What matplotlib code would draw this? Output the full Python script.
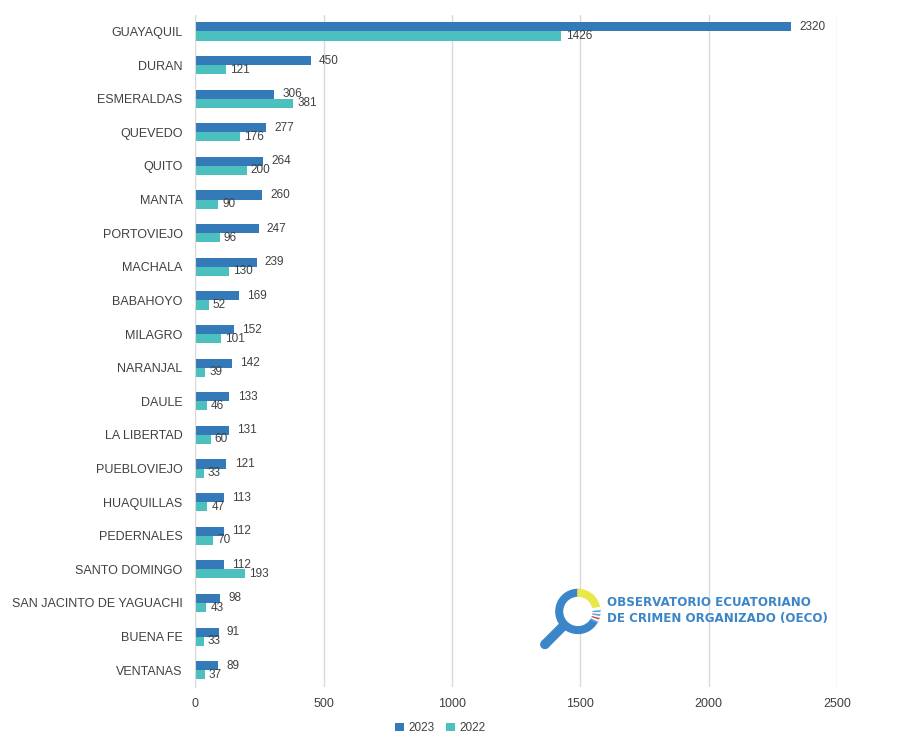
import matplotlib.pyplot as plt
import numpy as np
from matplotlib.patches import Wedge, Circle, Polygon

cities = ["GUAYAQUIL", "DURAN", "ESMERALDAS", "QUEVEDO", "QUITO", "MANTA",
          "PORTOVIEJO", "MACHALA", "BABAHOYO", "MILAGRO", "NARANJAL", "DAULE",
          "LA LIBERTAD", "PUEBLOVIEJO", "HUAQUILLAS", "PEDERNALES",
          "SANTO DOMINGO", "SAN JACINTO DE YAGUACHI", "BUENA FE", "VENTANAS"]
v2023 = [2320, 450, 306, 277, 264, 260, 247, 239, 169, 152, 142, 133, 131,
         121, 113, 112, 112, 98, 91, 89]
v2022 = [1426, 121, 381, 176, 200, 90, 96, 130, 52, 101, 39, 46, 60, 33,
         47, 70, 193, 43, 33, 37]
xticks = [0, 500, 1000, 1500, 2000, 2500]

c23 = '#3479b8'
c22 = '#4cbfbf'
txt = '#404040'

plt.rcParams['font.family'] = ['Liberation Sans', 'DejaVu Sans']

fig = plt.figure(figsize=(9.12, 7.34), dpi=100)
ax = fig.add_axes([0.214, 0.064, 0.704, 0.916])

y = np.arange(len(cities))
h = 0.27
b1 = ax.barh(y - h / 2, v2023, height=h, color=c23, label='2023')
b2 = ax.barh(y + h / 2, v2022, height=h, color=c22, label='2022')
ax.bar_label(b1, padding=6, fontsize=8.5, color=txt)
ax.bar_label(b2, padding=3, fontsize=8.5, color=txt)

ax.set_ylim(len(cities) - 0.5, -0.5)
ax.set_xlim(0, 2500)
ax.set_yticks(y)
ax.set_yticklabels(cities, fontsize=9, color=txt)
ax.set_xticks(xticks)
ax.set_xticklabels([str(t) for t in xticks], fontsize=9, color=txt)
ax.tick_params(length=0)
ax.tick_params(axis='x', pad=8)
ax.tick_params(axis='y', pad=9)
ax.xaxis.grid(True, color='#d9d9d9', linewidth=1)
ax.set_axisbelow(True)
for s in ['top', 'right', 'bottom']:
    ax.spines[s].set_visible(False)
ax.spines['left'].set_color('#d9d9d9')

fig.legend(loc='center', bbox_to_anchor=(0.483, 0.008), ncol=2, frameon=False,
           fontsize=8.5, handlelength=0.7, handleheight=0.7, columnspacing=1.0,
           handletextpad=0.4, labelcolor=txt)

# OECO logo
lax = fig.add_axes([0.574, 0.109, 0.1, 0.1])
lax.set_xlim(0, 1)
lax.set_ylim(0, 1)
lax.set_aspect('equal')
lax.axis('off')
cx, cy, r = 0.62, 0.58, 0.3
lax.add_patch(Polygon([[0.449, 0.331], [0.371, 0.409], [0.131, 0.169], [0.209, 0.091]],
                      closed=True, color='#3a86c8'))
lax.add_patch(Circle((0.17, 0.13), 0.055, color='#3a86c8'))
lax.add_patch(Wedge((cx, cy), r, 90, 330, width=0.11, color='#3a86c8'))
lax.add_patch(Wedge((cx, cy), r, 10, 90, width=0.11, color='#e8e84a'))
for i, a in enumerate(range(-30, 10, 5)):
    col = ['#5aa8e0', 'white', '#e05050', 'white'][i % 4] if a < -15 else ['#5aa8e0', 'white'][i % 2]
    lax.add_patch(Wedge((cx, cy), r, a, a + 5, width=0.11, color=col))
lax.add_patch(Circle((cx, cy), r - 0.11, color='white'))

fig.text(0.666, 0.168, 'OBSERVATORIO ECUATORIANO\nDE CRIMEN ORGANIZADO (OECO)',
         fontsize=8.6, color='#3a86c8', fontweight='bold', va='center',
         linespacing=1.25, family='DejaVu Sans')

plt.savefig('out.png')
